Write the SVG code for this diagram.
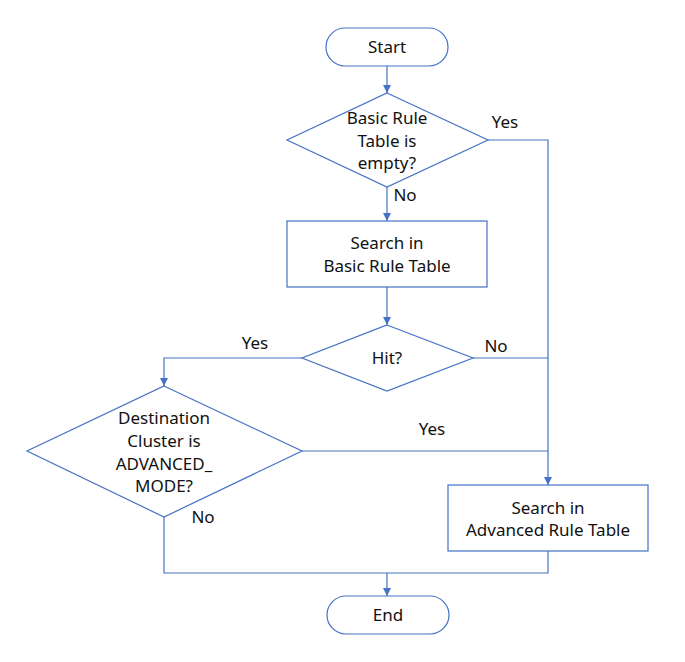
<svg xmlns="http://www.w3.org/2000/svg" width="685" height="662" viewBox="0 0 685 662">
<style>
.s{fill:#fff;stroke:#4472C4;stroke-width:1.2}
.c{fill:none;stroke:#4472C4;stroke-width:1.2}
text{font-family:"Noto Sans","Liberation Sans",sans-serif;font-size:17px;fill:#111;text-anchor:middle}
</style>
<defs>
<marker id="a" viewBox="0 0 10 10" refX="10" refY="5" markerWidth="8" markerHeight="8" markerUnits="userSpaceOnUse" orient="auto">
<path d="M0,0L10,5L0,10z" fill="#4472C4"/>
</marker>
</defs>
<rect width="685" height="662" fill="#fff"/>
<g id="connectors">
<path class="c" d="M387,66V93" marker-end="url(#a)"/>
<path class="c" d="M387,187V221" marker-end="url(#a)"/>
<path class="c" d="M488,140H548V485" marker-end="url(#a)"/>
<path class="c" d="M387,287V325" marker-end="url(#a)"/>
<path class="c" d="M473,358H548"/>
<path class="c" d="M302,358H164V386" marker-end="url(#a)"/>
<path class="c" d="M302,451H548"/>
<path class="c" d="M164,517V573H548V551"/>
<path class="c" d="M387,573V596" marker-end="url(#a)"/>
<text x="505" y="128">Yes</text>
<text x="405" y="201">No</text>
<text x="496" y="352">No</text>
<text x="255" y="349">Yes</text>
<text x="432" y="435">Yes</text>
<text x="203" y="523">No</text>
</g>
<g id="start">
<rect class="s" x="326" y="28" width="122" height="38" rx="19"/>
<text x="387" y="53">Start</text>
</g>
<g id="basic-empty">
<path class="s" d="M387,93L488,140L387,187L287,140z"/>
<text x="387" y="124">Basic Rule</text>
<text x="387" y="147">Table is</text>
<text x="387" y="169">empty?</text>
</g>
<g id="search-basic">
<rect class="s" x="287" y="221" width="200" height="66"/>
<text x="387" y="249">Search in</text>
<text x="387" y="272">Basic Rule Table</text>
</g>
<g id="hit">
<path class="s" d="M387,325L473,358L387,391L302,358z"/>
<text x="387" y="364">Hit?</text>
</g>
<g id="dest-cluster">
<path class="s" d="M164,386L302,451L164,517L27,451z"/>
<text x="164" y="424">Destination</text>
<text x="164" y="447">Cluster is</text>
<text x="164" y="470">ADVANCED_</text>
<text x="164" y="492">MODE?</text>
</g>
<g id="search-advanced">
<rect class="s" x="448" y="485" width="200" height="66"/>
<text x="548" y="514">Search in</text>
<text x="548" y="536">Advanced Rule Table</text>
</g>
<g id="end">
<rect class="s" x="327" y="596" width="122" height="38" rx="19"/>
<text x="388" y="621">End</text>
</g>
</svg>
